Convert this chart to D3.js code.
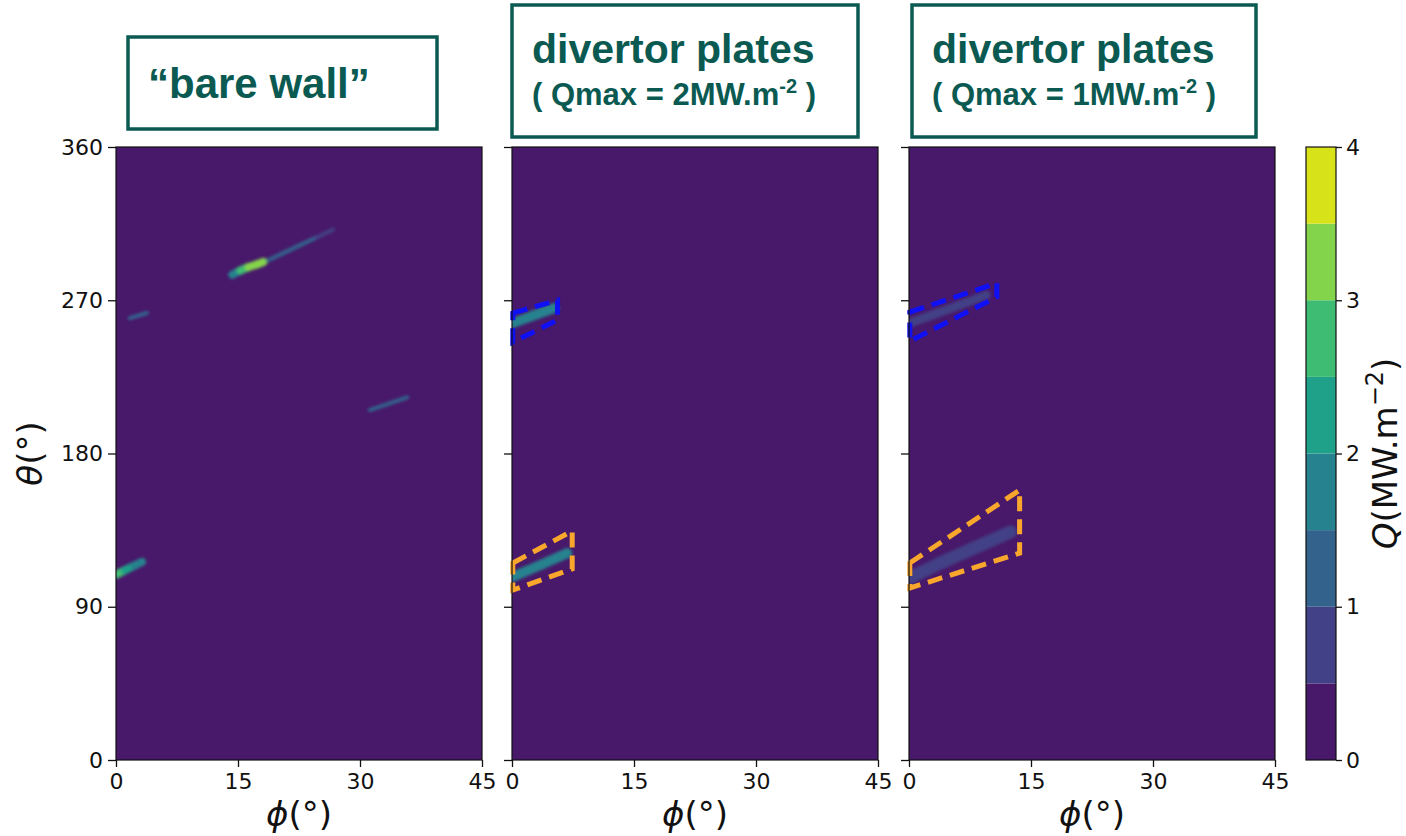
<!DOCTYPE html>
<html lang="en">
<head>
<meta charset="UTF-8" />
<title>Heat load maps - bare wall vs divertor plates</title>
<script src="https://d3js.org/d3.v7.min.js"></script>
<style>
  body { margin: 0; background: #fff; }
  svg { display: block; }
  .tick text { font-family: "DejaVu Sans", sans-serif; font-size: 22px; fill: #111; }
  .tick line { stroke: #111; stroke-width: 1.3; }
  .title { font-family: "Liberation Sans", Arial, sans-serif; font-weight: bold; fill: #0b5a52; }
  .lbl { font-family: "DejaVu Sans", sans-serif; font-size: 34px; fill: #111; }
</style>
</head>
<body>
<div id="chart"></div>
<script>
// axes / colour levels
const phiTicks = [0, 15, 30, 45];
const thetaTicks = [0, 90, 180, 270, 360];
const qLevels = [0, 0.5, 1, 1.5, 2, 2.5, 3, 3.5, 4];
const qTicks = [0, 1, 2, 3, 4];

// heat streaks: [phi, theta, Q] along each streak
const bareWallStreaks = [
  [[14.3, 285, 1.3], [15.3, 287.5, 2.4], [16.3, 289.5, 3.3], [17.3, 291, 3.6], [18.1, 292.5, 3.2]],
  [[18.7, 293.5, 1.4], [20.7, 298, 1.3], [22.7, 302.5, 1.2], [24.7, 307, 1.1], [26.7, 311.5, 0.8]],
  [[1.7, 259.5, 1.2], [3.8, 262.5, 1.0]],
  [[31.2, 205.5, 1.1], [35.8, 213, 1.1]],
  [[0.1, 109, 2.7], [1.1, 111.5, 2.4], [2.2, 114, 1.9], [3.2, 116.3, 1.3]]
];
const plates2Streaks = [
  [[0.1, 256.6, 1.7], [2.6, 261, 1.7], [5.2, 265.4, 1.6]],
  [[0.1, 107.5, 1.8], [3.5, 114.5, 1.8], [6.8, 121.5, 1.6]]
];
const plates1Streaks = [
  [[0.1, 256.6, 0.9], [5, 265, 0.9], [9.5, 273, 0.8]],
  [[0.1, 107, 0.9], [4, 116, 0.9], [8, 124.5, 0.9], [12.5, 134, 0.9]]
];

// dashed plate outlines: [phi, theta] vertices
const plates2Upper = [[0.1, 262.5], [5.6, 270], [5.6, 258.4], [0.1, 245.4]];
const plates2Lower = [[0.1, 115.7], [7.4, 134.5], [7.4, 112.2], [0.1, 99.8]];
const plates1Upper = [[0.1, 263], [10.8, 280.1], [10.8, 271.9], [0.1, 246]];
const plates1Lower = [[0.1, 115.7], [13.6, 158.5], [13.6, 121.5], [0.1, 101]];

const titles = ["“bare wall”", "divertor plates", "divertor plates"];
const qmaxLabels = [null, "2", "1"];

// ---- layout
const W = 1406, H = 836;
const plotTop = 147, plotBottom = 760, pw = 366;
const panels = [
  { x0: 116, streaks: bareWallStreaks, widths: [8, 4, 4, 4, 8], boxes: [] },
  { x0: 512, streaks: plates2Streaks, widths: [10, 10], boxes: [plates2Upper, plates2Lower] },
  { x0: 909, streaks: plates1Streaks, widths: [9, 13], boxes: [plates1Upper, plates1Lower] }
];
const boxColors = ["#1010f5", "#f8a62c"];
const titleBoxes = [
  { x: 128, y: 37, w: 309, h: 92, tx: 148, ty: 98 },
  { x: 512, y: 5, w: 346, h: 132, tx: 532, ty: 63 },
  { x: 912, y: 5, w: 344, h: 132, tx: 932, ty: 63 }
];

const bandColors = qLevels.slice(0, -1).map((q, i) => d3.interpolateViridis(((q + qLevels[i + 1]) / 2) / 4));
const qColor = d3.scaleThreshold().domain(qLevels.slice(1, -1)).range(bandColors);

const svg = d3.select("#chart").append("svg").attr("width", W).attr("height", H);
const defs = svg.append("defs");
defs.append("filter").attr("id", "soft").attr("x", "-20%").attr("y", "-50%")
  .attr("width", "140%").attr("height", "200%")
  .append("feGaussianBlur").attr("stdDeviation", 1.5);

const y = d3.scaleLinear().domain([0, 360]).range([plotBottom, plotTop]);

panels.forEach((p, k) => {
  const x = d3.scaleLinear().domain([0, 45]).range([p.x0, p.x0 + pw]);
  const g = svg.append("g");

  defs.append("clipPath").attr("id", "clip" + k)
    .append("rect").attr("x", p.x0).attr("y", plotTop).attr("width", pw).attr("height", plotBottom - plotTop);

  g.append("rect").attr("x", p.x0).attr("y", plotTop).attr("width", pw).attr("height", plotBottom - plotTop)
    .attr("fill", bandColors[0]);

  const heat = g.append("g").attr("clip-path", `url(#clip${k})`)
    .append("g").attr("filter", "url(#soft)");
  p.streaks.forEach((s, si) => {
    d3.pairs(s).forEach(([a, b]) => {
      heat.append("line")
        .attr("x1", x(a[0])).attr("y1", y(a[1]))
        .attr("x2", x(b[0])).attr("y2", y(b[1]))
        .attr("stroke", qColor((a[2] + b[2]) / 2))
        .attr("stroke-width", p.widths[si])
        .attr("stroke-linecap", "round");
    });
  });

  p.boxes.forEach((b, bi) => {
    g.append("path")
      .attr("d", d3.line().x(d => x(d[0])).y(d => y(d[1]))(b) + "Z")
      .attr("fill", "none")
      .attr("stroke", boxColors[bi])
      .attr("stroke-width", 5)
      .attr("stroke-dasharray", "15,8")
      .attr("stroke-linejoin", "miter");
  });

  g.append("rect").attr("x", p.x0).attr("y", plotTop).attr("width", pw).attr("height", plotBottom - plotTop)
    .attr("fill", "none").attr("stroke", "#111").attr("stroke-width", 1.2);

  g.append("g").attr("transform", `translate(0,${plotBottom})`)
    .call(d3.axisBottom(x).tickValues(phiTicks).tickSize(7).tickPadding(6).tickFormat(d3.format("d")))
    .call(a => a.select(".domain").remove());

  g.append("g").attr("transform", `translate(${p.x0},0)`)
    .call(d3.axisLeft(y).tickValues(thetaTicks).tickSize(8).tickPadding(5)
      .tickFormat(k === 0 ? d3.format("d") : () => ""))
    .call(a => a.select(".domain").remove());

  const xl = svg.append("text").attr("class", "lbl")
    .attr("x", p.x0 + pw / 2).attr("y", 826).attr("text-anchor", "middle");
  xl.append("tspan").attr("font-style", "italic").text("ϕ");
  xl.append("tspan").text("(°)");

  // title box
  const tb = titleBoxes[k];
  svg.append("rect").attr("x", tb.x).attr("y", tb.y).attr("width", tb.w).attr("height", tb.h)
    .attr("fill", "#fff").attr("stroke", "#0b5a52").attr("stroke-width", 3.5);
  svg.append("text").attr("class", "title").attr("x", tb.tx).attr("y", tb.ty)
    .attr("font-size", k === 0 ? 42 : 41).text(titles[k]);
  if (qmaxLabels[k]) {
    const t = svg.append("text").attr("class", "title").attr("x", tb.tx).attr("y", tb.ty + 42)
      .attr("font-size", 31);
    t.append("tspan").text(`( Qmax = ${qmaxLabels[k]}MW.m`);
    t.append("tspan").attr("font-size", 20).attr("dy", -12).text("-2");
    t.append("tspan").attr("dy", 12).text(" )");
  }
});

// theta label
const yl = svg.append("text").attr("class", "lbl")
  .attr("transform", `translate(42,${(plotTop + plotBottom) / 2}) rotate(-90)`).attr("text-anchor", "middle");
yl.append("tspan").attr("font-style", "italic").text("θ");
yl.append("tspan").text("(°)");

// colorbar
const cbx = 1306, cbw = 30;
const qy = d3.scaleLinear().domain([0, 4]).range([plotBottom, plotTop]);
svg.append("g").selectAll("rect").data(d3.pairs(qLevels)).join("rect")
  .attr("x", cbx).attr("width", cbw)
  .attr("y", d => qy(d[1])).attr("height", d => qy(d[0]) - qy(d[1]))
  .attr("fill", (d, i) => bandColors[i]);
svg.append("rect").attr("x", cbx).attr("y", plotTop).attr("width", cbw).attr("height", plotBottom - plotTop)
  .attr("fill", "none").attr("stroke", "#111").attr("stroke-width", 1.2);
svg.append("g").attr("transform", `translate(${cbx + cbw},0)`)
  .call(d3.axisRight(qy).tickValues(qTicks).tickSize(6).tickPadding(4).tickFormat(d3.format("d")))
  .call(a => a.select(".domain").remove());

const ql = svg.append("text").attr("class", "lbl").attr("font-size", 36)
  .attr("transform", `translate(1397,${(plotTop + plotBottom) / 2}) rotate(-90)`).attr("text-anchor", "middle");
ql.append("tspan").attr("font-style", "italic").text("Q");
ql.append("tspan").text("(MW.m");
ql.append("tspan").attr("font-size", 24).attr("dy", -14).text("−2");
ql.append("tspan").attr("dy", 14).text(")");
</script>
</body>
</html>
